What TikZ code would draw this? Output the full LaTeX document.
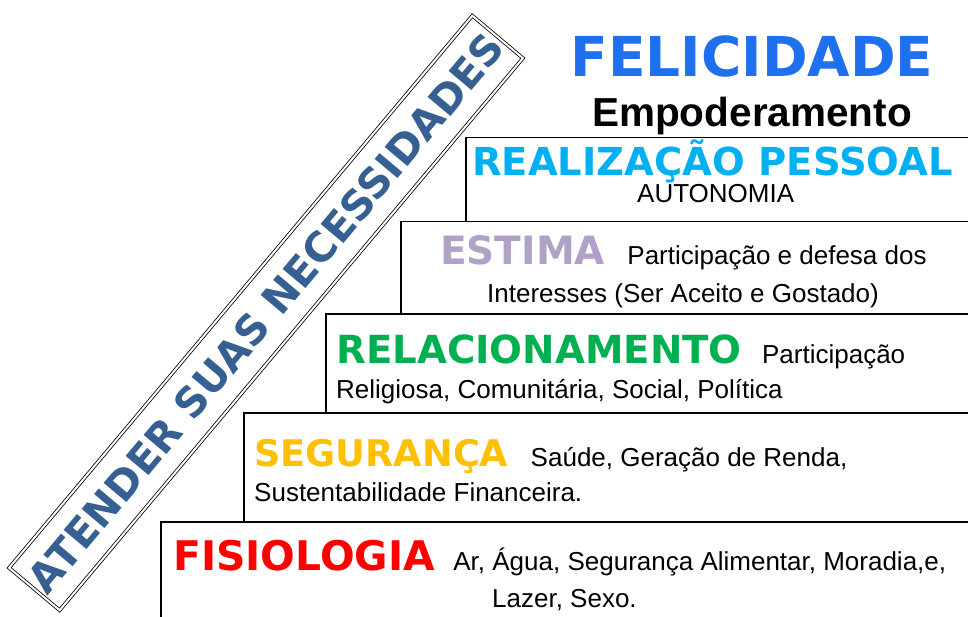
\documentclass[tikz,border=0pt]{standalone}
\usepackage{fontspec}
\setmainfont{Liberation Sans}
\newfontfamily\comicfont{DejaVu Sans}
\usepackage{xcolor}
\usetikzlibrary{positioning}

\definecolor{felizblue}{RGB}{31,112,238}
\definecolor{realizcyan}{RGB}{0,176,240}
\definecolor{estimalilac}{RGB}{178,161,199}
\definecolor{relacgreen}{RGB}{0,176,80}
\definecolor{seggold}{RGB}{255,192,0}
\definecolor{fisiored}{RGB}{255,0,0}
\definecolor{faixablue}{RGB}{55,96,146}

\newcommand{\comicsize}[1]{\comicfont\bfseries\fontsize{#1}{#1}\selectfont}

\begin{document}
\begin{tikzpicture}[x=1pt,y=-1pt]
		\tikzstyle{degrau} = [draw, line width=1.5pt, fill=white, anchor=north west, minimum height=110, minimum width=840]
		\tikzstyle{titulo} = [inner sep=0pt, anchor=base west, font=\comicsize{39}]
		\tikzstyle{texto} = [inner sep=0pt, anchor=base west, font=\fontsize{26}{26}\selectfont]
		\tikzstyle{faixa} = [draw, double, double distance=2pt, line width=0.8pt, minimum width=719, minimum height=66, text=faixablue, font=\comicsize{41}]

		\useasboundingbox (0,0) rectangle (968,617);
		\clip (0,0) rectangle (968,617);

		% degraus
		\node[degrau] (Realizacao) at (465,137) {};
		\node[degrau] (Estima) at (400,221) {};
		\node[degrau] (Relacionamento) at (325,313) {};
		\node[degrau] (Seguranca) at (243,412) {};
		\node[degrau] (Fisiologia) at (160,521) {};

		% topo
		\node[titulo, anchor=base, text=felizblue, font=\comicsize{55}] (Felicidade) at (752,77) {FELICIDADE};
		\node[texto, anchor=base, font=\bfseries\fontsize{40.5}{40.5}\selectfont] (Empoderamento) at (752,127) {Empoderamento};

		\node[titulo, text=realizcyan, font=\comicsize{38.5}] (RealizacaoTit) at (472,176) {REALIZAÇÃO PESSOAL};
		\node[texto] (Autonomia) at (637,203) {AUTONOMIA};

		\node[titulo, text=estimalilac] (EstimaTit) at (440,265) {ESTIMA};
		\node[texto, base right=22pt of EstimaTit] (EstimaTxt) {Participação e defesa dos};
		\node[texto] (EstimaTxt2) at (487,302) {Interesses (Ser Aceito e Gostado)};

		\node[titulo, text=relacgreen, font=\comicsize{38.7}] (RelacionamentoTit) at (336,363) {RELACIONAMENTO};
		\node[texto, base right=20pt of RelacionamentoTit] (RelacionamentoTxt) {Participação};
		\node[texto] (RelacionamentoTxt2) at (336,398) {Religiosa, Comunitária, Social, Política};

		\node[titulo, text=seggold, font=\comicsize{36.7}] (SegurancaTit) at (254,466) {SEGURANÇA};
		\node[texto, base right=22pt of SegurancaTit] (SegurancaTxt) {Saúde, Geração de Renda,};
		\node[texto] (SegurancaTxt2) at (254,501) {Sustentabilidade Financeira.};

		\node[titulo, text=fisiored, font=\comicsize{40.8}] (FisiologiaTit) at (173,570) {FISIOLOGIA};
		\node[texto, base right=18pt of FisiologiaTit] (FisiologiaTxt) {Ar, Água, Segurança Alimentar, Moradia,e,};
		\node[texto] (FisiologiaTxt2) at (492,607) {Lazer, Sexo.};

		% faixa diagonal
		\node[faixa, rotate=50] (Necessidades) at (266,313) {ATENDER SUAS NECESSIDADES};

	\end{tikzpicture}
\end{document}
